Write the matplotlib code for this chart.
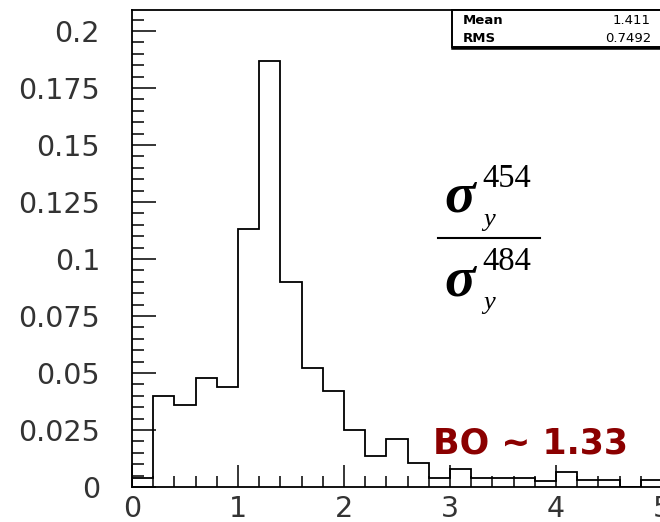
import numpy as np
import matplotlib
matplotlib.use("Agg")
import matplotlib.pyplot as plt
from matplotlib.ticker import MultipleLocator
from matplotlib.patches import Rectangle
from matplotlib.lines import Line2D

# ---- data ----
bin_edges = [0.0, 0.2, 0.4, 0.6, 0.8, 1.0, 1.2, 1.4, 1.6, 1.8, 2.0, 2.2, 2.4,
             2.6, 2.8, 3.0, 3.2, 3.4, 3.6, 3.8, 4.0, 4.2, 4.4, 4.6, 4.8, 5.0]
bin_values = [0.004, 0.040, 0.036, 0.048, 0.044, 0.113, 0.187, 0.090, 0.052,
              0.042, 0.025, 0.0135, 0.021, 0.0105, 0.004, 0.008, 0.004, 0.004,
              0.004, 0.0025, 0.0065, 0.003, 0.003, 0.0, 0.003]
x_ticks = [0, 1, 2, 3, 4, 5]
x_tick_labels = ["0", "1", "2", "3", "4", "5"]
y_ticks = [0, 0.025, 0.05, 0.075, 0.1, 0.125, 0.15, 0.175, 0.2]
y_tick_labels = ["0", "0.025", "0.05", "0.075", "0.1", "0.125", "0.15", "0.175", "0.2"]
stat_names = ["Mean", "RMS"]
stat_values = ["1.411", "0.7492"]
annotation = "BO ~ 1.33"

W, H = 660, 522
fig = plt.figure(figsize=(W / 100, H / 100), dpi=100)

def fx(px):
    return px / W

def fy(py):
    return 1 - py / H

L, R, T, B = 132, 662, 10, 487
ax = fig.add_axes([fx(L), fy(B), fx(R) - fx(L), fy(T) - fy(B)])
ax.stairs(bin_values, bin_edges, color="black", linewidth=1.3, baseline=0)
ax.set_xlim(0, 5)
ax.set_ylim(0, 0.2092)

ax.set_xticks(x_ticks)
ax.set_xticklabels(x_tick_labels)
ax.set_yticks(y_ticks)
ax.set_yticklabels(y_tick_labels)
ax.xaxis.set_minor_locator(MultipleLocator(0.2))
ax.yaxis.set_minor_locator(MultipleLocator(0.005))

ax.tick_params(axis="x", which="major", direction="in", length=15.8, width=1.1,
               labelsize=20.5, pad=6, top=False)
ax.tick_params(axis="x", which="minor", direction="in", length=7.9, width=1.1, top=False)
ax.tick_params(axis="y", which="major", direction="in", length=17, width=1.1,
               labelsize=20.5, pad=23, right=False)
ax.tick_params(axis="y", which="minor", direction="in", length=8.6, width=1.1, right=False)
for lab in ax.get_xticklabels() + ax.get_yticklabels():
    lab.set_color("#333333")
for s in ax.spines.values():
    s.set_linewidth(1.3)

# stat box
box = Rectangle((fx(452), fy(47)), fx(680) - fx(452), fy(10) - fy(47),
                transform=fig.transFigure, facecolor="white", edgecolor="black",
                linewidth=1.4, zorder=5)
fig.add_artist(box)
fig.add_artist(Line2D([fx(452), fx(680)], [fy(47.5), fy(47.5)], transform=fig.transFigure,
                      color="black", linewidth=1.8, zorder=6))
for i, (n, v) in enumerate(zip(stat_names, stat_values)):
    yy = 21 + i * 18
    fig.text(fx(463), fy(yy), n, fontsize=9.5, ha="left", va="center",
             fontweight="semibold", zorder=7)
    fig.text(fx(651), fy(yy), v, fontsize=9.5, ha="right", va="center", zorder=7)

# fraction sigma_y^454 / sigma_y^484
serif = "Liberation Serif"
def sigma_term(base_y, sup):
    fig.text(fx(460), fy(base_y), "σ", fontsize=41, family=serif, style="italic",
             fontweight="bold", ha="center", va="baseline")
    fig.text(fx(482), fy(base_y - 25), sup, fontsize=23.5, family=serif,
             ha="left", va="baseline")
    fig.text(fx(483), fy(base_y + 14), "y", fontsize=19, family=serif,
             style="italic", ha="left", va="baseline")

sigma_term(212, "454")
fig.add_artist(Line2D([fx(438), fx(540)], [fy(238), fy(238)], transform=fig.transFigure,
                      color="black", linewidth=1.5))
sigma_term(295, "484")

fig.text(fx(433), fy(453), annotation, fontsize=25, fontweight="bold",
         color="#8B0000", ha="left", va="baseline")

fig.savefig("out.png", dpi=100)
